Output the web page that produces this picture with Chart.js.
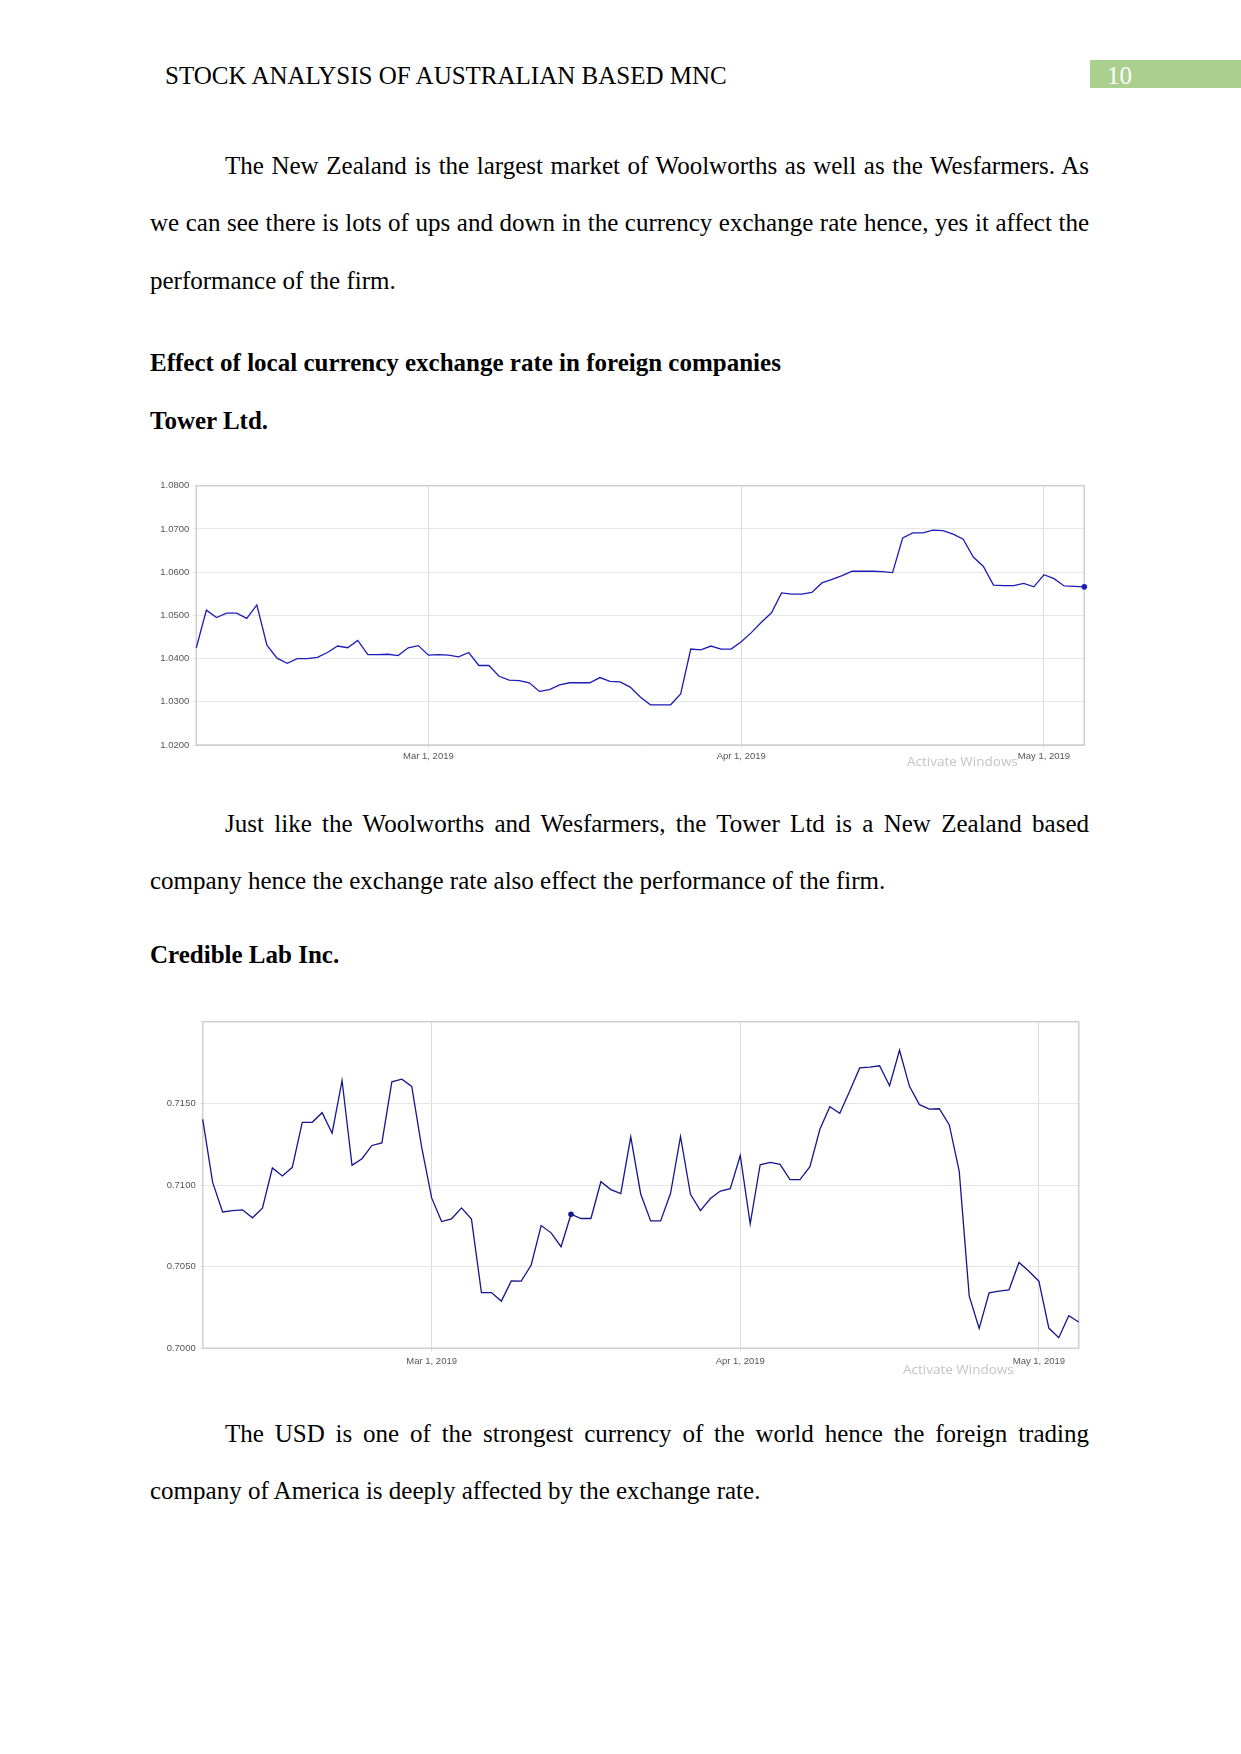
<!DOCTYPE html>
<html>
<head>
<meta charset="utf-8">
<script src="https://cdn.jsdelivr.net/npm/chart.js@4"></script>
<style>
  html, body { margin: 0; padding: 0; background: #fff; }
  #page { position: relative; width: 1241px; height: 1754px; overflow: hidden; font-family: "Liberation Serif", "Times New Roman", serif; color: #000; }
  .ln { position: absolute; font-size: 25px; line-height: 30px; height: 30px; white-space: nowrap; }
  .just { text-align: justify; text-align-last: justify; white-space: normal; }
  .b { font-weight: bold; }
  .chart { position: absolute; }
  .wm { position: absolute; font-family: "Open Sans", "DejaVu Sans", sans-serif; font-size: 13.5px; line-height: 16px; color: #c4c4c4; white-space: nowrap; }
  #pnum { position: absolute; left: 1090px; top: 60px; width: 151px; height: 28px; background: #a9d08e; }
</style>
</head>
<body>
<div id="page">
  <div id="pnum"></div>
  <div class="ln" style="left:1107px; top:61px; color:#fff;">10</div>
  <div class="ln" style="left:165px; top:61px;">STOCK ANALYSIS OF AUSTRALIAN BASED MNC</div>

  <div class="ln just" style="left:225px; width:864px; top:150.5px;">The New Zealand is the largest market of Woolworths as well as the Wesfarmers. As</div>
  <div class="ln just" style="left:150px; width:939px; top:208px;">we can see there is lots of ups and down in the currency exchange rate hence, yes it affect the</div>
  <div class="ln" style="left:150px; top:265.5px;">performance of the firm.</div>

  <div class="ln b" style="left:150px; top:348px;">Effect of local currency exchange rate in foreign companies</div>
  <div class="ln b" style="left:150px; top:405.5px;">Tower Ltd.</div>

  <canvas id="towerChart" class="chart" style="left:150px; top:476px;"></canvas>
  <div class="wm" style="left:907px; top:752.5px;">Activate Windows</div>

  <div class="ln just" style="left:225px; width:864px; top:809px;">Just like the Woolworths and Wesfarmers, the Tower Ltd is a New Zealand based</div>
  <div class="ln" style="left:150px; top:866px;">company hence the exchange rate also effect the performance of the firm.</div>

  <div class="ln b" style="left:150px; top:940px;">Credible Lab Inc.</div>

  <canvas id="credibleChart" class="chart" style="left:155px; top:1012px;"></canvas>
  <div class="wm" style="left:903px; top:1360.5px;">Activate Windows</div>

  <div class="ln just" style="left:225px; width:864px; top:1419px;">The USD is one of the strongest currency of the world hence the foreign trading</div>
  <div class="ln" style="left:150px; top:1476px;">company of America is deeply affected by the exchange rate.</div>
</div>

<script>
// daily rates, Feb 6 2019 .. May 5 2019 (one value per day)
const towerRates = [
  1.0425, 1.0512, 1.0495, 1.0505, 1.0505, 1.0493, 1.0524, 1.0431, 1.0401, 1.0389,
  1.0400, 1.0400, 1.0403, 1.0414, 1.0429, 1.0425, 1.0442, 1.0409, 1.0409, 1.0410,
  1.0407, 1.0425, 1.0430, 1.0408, 1.0409, 1.0408, 1.0404, 1.0414, 1.0384, 1.0384,
  1.0359, 1.0350, 1.0349, 1.0344, 1.0324, 1.0328, 1.0339, 1.0344, 1.0344, 1.0344,
  1.0356, 1.0347, 1.0346, 1.0334, 1.0311, 1.0293, 1.0293, 1.0293, 1.0318, 1.0422,
  1.0420, 1.0429, 1.0422, 1.0422, 1.0439, 1.0460, 1.0484, 1.0506, 1.0552, 1.0549,
  1.0549, 1.0553, 1.0575, 1.0583, 1.0592, 1.0602, 1.0602, 1.0602, 1.0601, 1.0599,
  1.0679, 1.0691, 1.0691, 1.0697, 1.0696, 1.0688, 1.0676, 1.0635, 1.0613, 1.0570,
  1.0569, 1.0569, 1.0574, 1.0566, 1.0594, 1.0585, 1.0568, 1.0567, 1.0566
];

const credibleRates = [
  0.71402, 0.71016, 0.70835, 0.70843, 0.70848, 0.70799, 0.70858, 0.71104, 0.71055, 0.71108,
  0.71384, 0.71384, 0.71443, 0.71317, 0.71640, 0.71120, 0.71161, 0.71242, 0.71258, 0.71632,
  0.71648, 0.71604, 0.71230, 0.70921, 0.70776, 0.70793, 0.70860, 0.70791, 0.70341, 0.70341,
  0.70289, 0.70413, 0.70411, 0.70510, 0.70752, 0.70707, 0.70622, 0.70821, 0.70795, 0.70795,
  0.71020, 0.70972, 0.70947, 0.71295, 0.70945, 0.70780, 0.70780, 0.70949, 0.71297, 0.70943,
  0.70843, 0.70917, 0.70963, 0.70978, 0.71181, 0.70762, 0.71124, 0.71138, 0.71126, 0.71033,
  0.71033, 0.71112, 0.71341, 0.71480, 0.71439, 0.71575, 0.71717, 0.71722, 0.71730, 0.71608,
  0.71825, 0.71604, 0.71492, 0.71465, 0.71467, 0.71368, 0.71083, 0.70321, 0.70122, 0.70339,
  0.70350, 0.70358, 0.70526, 0.70472, 0.70411, 0.70124, 0.70065, 0.70199, 0.70161
];

// day index of each month tick (0 = Feb 6, 2019)
const monthTicks = [23, 54, 84];
const monthLabels = ['Mar 1, 2019', 'Apr 1, 2019', 'May 1, 2019'];

const towerTicks = [1.02, 1.03, 1.04, 1.05, 1.06, 1.07, 1.08];
const credibleTicks = [0.700, 0.705, 0.710, 0.715, 0.720];

const plotBorder = {
  id: 'plotBorder',
  beforeDatasetsDraw(chart) {
    const {ctx, chartArea} = chart;
    ctx.save();
    ctx.strokeStyle = '#cfcfcf';
    ctx.lineWidth = 1.5;
    ctx.strokeRect(chartArea.left, chartArea.top, chartArea.right - chartArea.left, chartArea.bottom - chartArea.top);
    ctx.restore();
  }
};

function makeChart(id, opts) {
  const canvas = document.getElementById(id);
  canvas.width = opts.width;
  canvas.height = opts.height;
  canvas.style.width = opts.width + 'px';
  canvas.style.height = opts.height + 'px';

  const radii = opts.values.map((v, i) => i === opts.dotIndex ? 2.8 : 0);

  return new Chart(canvas, {
    type: 'line',
    data: {
      datasets: [{
        data: opts.values.map((v, i) => ({x: i, y: v})),
        borderColor: opts.color,
        backgroundColor: opts.color,
        borderWidth: 1.3,
        tension: 0,
        pointRadius: radii,
        pointBorderWidth: 0,
        clip: false,
        fill: false
      }]
    },
    options: {
      responsive: false,
      animation: false,
      devicePixelRatio: 1,
      layout: {padding: opts.padding},
      plugins: {legend: {display: false}, tooltip: {enabled: false}},
      scales: {
        x: {
          type: 'linear',
          min: 0,
          max: opts.values.length - 1,
          afterBuildTicks: axis => { axis.ticks = monthTicks.map(v => ({value: v})); },
          afterFit: axis => { axis.height = opts.xHeight; },
          ticks: {
            autoSkip: false,
            maxRotation: 0,
            padding: opts.xPad,
            color: '#555',
            font: {family: 'Liberation Sans, Arial', size: 9.5},
            callback: v => monthLabels[monthTicks.indexOf(v)]
          },
          grid: {color: '#dcdcdc', lineWidth: 1, tickLength: 3},
          border: {color: '#cfcfcf'}
        },
        y: {
          min: opts.ticks[0],
          max: opts.ticks[opts.ticks.length - 1],
          afterBuildTicks: axis => { axis.ticks = opts.ticks.map(v => ({value: v})); },
          afterFit: axis => { axis.width = opts.yWidth; },
          ticks: {
            padding: 4,
            color: '#555',
            font: {family: 'Liberation Sans, Arial', size: 9.5},
            callback: v => (opts.hideTop && v === opts.ticks[opts.ticks.length - 1]) ? '' : v.toFixed(4)
          },
          grid: {color: '#e6e6e6', lineWidth: 1, tickLength: 3},
          border: {color: '#cfcfcf'}
        }
      }
    },
    plugins: [plotBorder]
  });
}

makeChart('towerChart', {
  width: 940, height: 294,
  values: towerRates,
  ticks: towerTicks,
  color: '#1c1cb8',
  dotIndex: towerRates.length - 1,
  padding: {top: 9.7, right: 5.7, bottom: 0, left: 0},
  yWidth: 46.3,
  xHeight: 25,
  xPad: 2.5
});

makeChart('credibleChart', {
  width: 930, height: 362,
  values: credibleRates,
  ticks: credibleTicks,
  hideTop: true,
  color: '#16168c',
  dotIndex: 37,
  padding: {top: 8.7, right: 6.3, bottom: 0, left: 0},
  yWidth: 47.7,
  xHeight: 25.7,
  xPad: 4
});
</script>
</body>
</html>
